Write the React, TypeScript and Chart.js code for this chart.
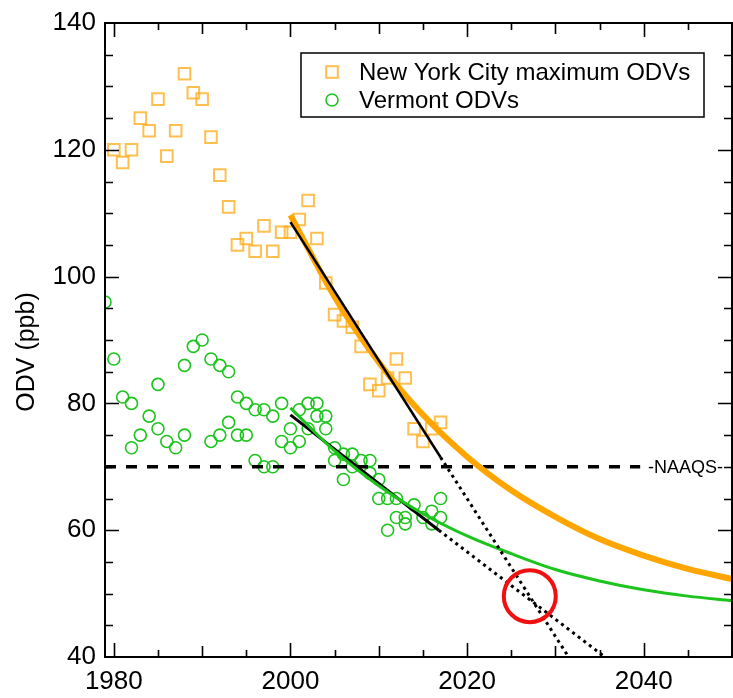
import React, { useEffect, useRef } from "react";
import { Chart, registerables } from "chart.js";
Chart.register(...registerables);

// ---------------- data ----------------
const NYC_YEARS = [1980, 1981, 1982, 1983, 1984, 1985, 1986, 1987, 1988, 1989, 1990, 1991, 1992, 1993, 1994, 1995, 1996, 1997, 1998, 1999, 2000, 2001, 2002, 2003, 2004, 2005, 2006, 2007, 2008, 2009, 2010, 2011, 2012, 2013, 2014, 2015, 2016, 2017];
const NYC_VALUES = [120, 118, 120, 125, 123, 128, 119, 123, 132, 129, 128, 122, 116, 111, 105, 106, 104, 108, 104, 107, 107, 109, 112, 106, 99, 94, 93, 92, 89, 83, 82, 84, 87, 84, 76, 74, 76, 77];

const VT_YEARS = [1979, 1980, 1981, 1982, 1982, 1983, 1984, 1985, 1985, 1986, 1987, 1988, 1988, 1989, 1990, 1991, 1991, 1992, 1992, 1993, 1993, 1994, 1994, 1995, 1995, 1996, 1996, 1997, 1997, 1998, 1998, 1999, 1999, 2000, 2000, 2001, 2001, 2002, 2002, 2003, 2003, 2004, 2004, 2005, 2005, 2006, 2006, 2007, 2007, 2008, 2009, 2009, 2010, 2010, 2011, 2011, 2012, 2012, 2013, 2013, 2014, 2015, 2016, 2016, 2017, 2017];
const VT_VALUES = [96, 87, 81, 80, 73, 75, 78, 83, 76, 74, 73, 86, 75, 89, 90, 87, 74, 86, 75, 85, 77, 81, 75, 80, 75, 79, 71, 79, 70, 78, 70, 80, 74, 76, 73, 79, 74, 80, 76, 80, 78, 78, 76, 73, 71, 72, 68, 72, 70, 71, 71, 69, 68, 65, 65, 60, 65, 62, 62, 61, 64, 62, 63, 61, 65, 62];

const FIT_YEARS = [2000, 2005, 2010, 2015, 2020, 2025, 2030, 2035, 2040, 2045, 2050];
const NYC_FIT_VALUES = [109.7, 96.8, 86.5, 78.2, 71.6, 66.3, 62.1, 58.6, 56.0, 53.9, 52.3];
const VT_FIT_VALUES = [79.3, 72.5, 67.0, 62.6, 59.1, 56.3, 53.8, 52.0, 50.6, 49.6, 48.9];

const NYC_TREND_YEARS = [2000, 2017];
const NYC_TREND_VALUES = [108.6, 71.5];
const NYC_PROJ_YEARS = [2017, 2031.5];
const NYC_PROJ_VALUES = [71.5, 40];

const VT_TREND_YEARS = [2000, 2016.8];
const VT_TREND_VALUES = [78.2, 60.0];
const VT_PROJ_YEARS = [2016.8, 2035.6];
const VT_PROJ_VALUES = [60.0, 40];

const NAAQS_YEARS = [1979, 2039.6];
const NAAQS_VALUE = 70;
const NAAQS_LABEL = "-NAAQS-";

const CROSS_YEAR = [2027.1];
const CROSS_VALUE = [49.6];

const X_MIN = 1979;
const X_MAX = 2050;
const Y_MIN = 40;
const Y_MAX = 140;
const X_TICKS = [1980, 2000, 2020, 2040];
const Y_TICKS = [40, 60, 80, 100, 120, 140];

const Y_TITLE = "ODV (ppb)";
const LEGEND_NYC = "New York City maximum ODVs";
const LEGEND_VT = "Vermont ODVs";

// ---------------- styles ----------------
const FONT = "'Liberation Sans', Arial, Helvetica, sans-serif";
const ORANGE_MARK = "rgba(255,170,20,0.75)";
const ORANGE_LINE = "#FFA500";
const GREEN = "#1DC41D";
const RED = "#F01010";

const pts = (xs: number[], ys: number[]) => xs.map((x, i) => ({ x, y: ys[i] }));

const framePlugin = {
  id: "frame",
  afterDatasetsDraw(chart: any) {
    const { ctx, chartArea: a, scales } = chart;
    const xs = scales.x;
    const ys = scales.y;
    ctx.save();
    ctx.strokeStyle = "#000";
    ctx.lineWidth = 2;
    ctx.strokeRect(a.left, a.top, a.right - a.left, a.bottom - a.top);
    ctx.lineWidth = 1.6;
    ctx.beginPath();
    for (let yr = 1980; yr < X_MAX; yr += 5) {
      const len = yr % 20 === 0 ? 14 : yr % 10 === 0 ? 11 : 7;
      const px = Math.round(xs.getPixelForValue(yr)) + 0.5;
      ctx.moveTo(px, a.bottom);
      ctx.lineTo(px, a.bottom - len);
      ctx.moveTo(px, a.top);
      ctx.lineTo(px, a.top + len);
    }
    for (let v = Y_MIN + 5; v < Y_MAX; v += 5) {
      const len = v % 20 === 0 ? 14 : 8;
      const py = Math.round(ys.getPixelForValue(v)) + 0.5;
      ctx.moveTo(a.left, py);
      ctx.lineTo(a.left + len, py);
      ctx.moveTo(a.right, py);
      ctx.lineTo(a.right - len, py);
    }
    ctx.stroke();

    // NAAQS label
    ctx.fillStyle = "#000";
    ctx.font = `18px ${FONT}`;
    ctx.textAlign = "right";
    ctx.textBaseline = "middle";
    ctx.fillText(NAAQS_LABEL, a.right - 9, ys.getPixelForValue(NAAQS_VALUE) + 1);

    // Y title
    ctx.save();
    ctx.translate(27, 352);
    ctx.rotate(-Math.PI / 2);
    ctx.font = `25px ${FONT}`;
    ctx.textAlign = "center";
    ctx.textBaseline = "middle";
    ctx.fillText(Y_TITLE, 0, 0);
    ctx.restore();

    // Legend
    ctx.fillStyle = "#fff";
    ctx.fillRect(301, 53, 403, 64);
    ctx.lineWidth = 1.5;
    ctx.strokeStyle = "#000";
    ctx.strokeRect(301, 53, 403, 64);
    ctx.strokeStyle = ORANGE_MARK;
    ctx.lineWidth = 2;
    ctx.strokeRect(332 - 5.8, 72 - 5.8, 11.6, 11.6);
    ctx.strokeStyle = GREEN;
    ctx.lineWidth = 1.6;
    ctx.beginPath();
    ctx.arc(332, 100, 6, 0, Math.PI * 2);
    ctx.stroke();
    ctx.fillStyle = "#000";
    ctx.font = `24px ${FONT}`;
    ctx.textAlign = "left";
    ctx.textBaseline = "middle";
    ctx.fillText(LEGEND_NYC, 359, 73);
    ctx.fillText(LEGEND_VT, 359, 101);
    ctx.restore();
  },
};

export default function App() {
  const ref = useRef<HTMLCanvasElement | null>(null);
  useEffect(() => {
    if (!ref.current) return;
    const chart = new Chart(ref.current, {
      type: "scatter",
      data: {
        datasets: [
          {
            data: pts(CROSS_YEAR, CROSS_VALUE),
            pointStyle: "circle",
            pointRadius: 26,
            borderWidth: 4,
            borderColor: RED,
            backgroundColor: "rgba(0,0,0,0)",
            order: 0,
          },
          {
            data: pts(NYC_TREND_YEARS, NYC_TREND_VALUES),
            showLine: true,
            pointRadius: 0,
            borderColor: "#000",
            borderWidth: 2.5,
            order: 1,
          },
          {
            data: pts(NYC_PROJ_YEARS, NYC_PROJ_VALUES),
            showLine: true,
            pointRadius: 0,
            borderColor: "#000",
            borderWidth: 3,
            borderDash: [3, 4],
            order: 1,
          },
          {
            data: pts(VT_TREND_YEARS, VT_TREND_VALUES),
            showLine: true,
            pointRadius: 0,
            borderColor: "#000",
            borderWidth: 3,
            order: 3,
          },
          {
            data: pts(VT_PROJ_YEARS, VT_PROJ_VALUES),
            showLine: true,
            pointRadius: 0,
            borderColor: "#000",
            borderWidth: 3,
            borderDash: [3, 4],
            order: 1,
          },
          {
            data: pts(FIT_YEARS, NYC_FIT_VALUES),
            showLine: true,
            pointRadius: 0,
            borderColor: ORANGE_LINE,
            borderWidth: 6,
            cubicInterpolationMode: "monotone",
            order: 2,
          },
          {
            data: pts(FIT_YEARS, VT_FIT_VALUES),
            showLine: true,
            pointRadius: 0,
            borderColor: GREEN,
            borderWidth: 3,
            cubicInterpolationMode: "monotone",
            order: 2,
          },
          {
            data: pts(NAAQS_YEARS, [NAAQS_VALUE, NAAQS_VALUE]),
            showLine: true,
            pointRadius: 0,
            borderColor: "#000",
            borderWidth: 3.5,
            borderDash: [11, 10],
            order: 4,
          },
          {
            data: pts(NYC_YEARS, NYC_VALUES),
            pointStyle: "rect",
            pointRadius: 8.2,
            borderWidth: 2,
            borderColor: ORANGE_MARK,
            backgroundColor: "rgba(0,0,0,0)",
            order: 5,
          },
          {
            data: pts(VT_YEARS, VT_VALUES),
            pointStyle: "circle",
            pointRadius: 6,
            borderWidth: 1.6,
            borderColor: GREEN,
            backgroundColor: "rgba(0,0,0,0)",
            order: 5,
          },
        ],
      },
      options: {
        responsive: false,
        maintainAspectRatio: false,
        animation: false,
        events: [],
        layout: { autoPadding: false, padding: { top: 23, right: 1, left: 0, bottom: 0 } },
        plugins: { legend: { display: false }, tooltip: { enabled: false } },
        scales: {
          x: {
            type: "linear",
            position: "bottom",
            min: X_MIN,
            max: X_MAX,
            grid: { display: false, drawTicks: false },
            border: { display: false },
            ticks: {
              color: "#000",
              font: { size: 26, family: FONT },
              padding: 9,
              maxRotation: 0,
              autoSkip: false,
              callback: (v: any) => String(v),
            },
            afterBuildTicks: (s: any) => {
              s.ticks = X_TICKS.map((v) => ({ value: v }));
            },
            afterFit: (s: any) => {
              s.height = 41;
              s.paddingLeft = 0;
              s.paddingRight = 0;
            },
          },
          y: {
            type: "linear",
            min: Y_MIN,
            max: Y_MAX,
            grid: { display: false, drawTicks: false },
            border: { display: false },
            ticks: {
              color: "#000",
              font: { size: 26, family: FONT },
              padding: 9,
              callback: (v: any) => String(v),
            },
            afterBuildTicks: (s: any) => {
              s.ticks = Y_TICKS.map((v) => ({ value: v }));
            },
            afterFit: (s: any) => {
              s.width = 105;
              s.paddingTop = 0;
              s.paddingBottom = 0;
            },
          },
        },
      },
      plugins: [framePlugin],
    } as any);
    return () => chart.destroy();
  }, []);
  return (
    <div style={{ position: "fixed", left: 0, top: 0, width: 733, height: 698, background: "#fff" }}>
      <canvas ref={ref} width={733} height={698} style={{ display: "block" }} />
    </div>
  );
}
